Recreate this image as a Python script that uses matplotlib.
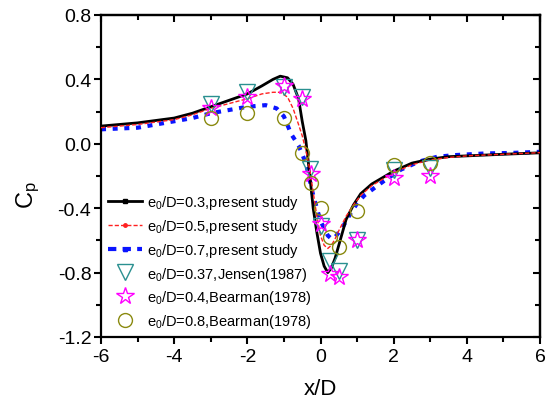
import matplotlib
matplotlib.use("Agg")
import matplotlib.pyplot as plt
from matplotlib.lines import Line2D
from matplotlib.ticker import MultipleLocator

plt.rcParams['font.family'] = ['Liberation Sans', 'DejaVu Sans']
plt.rcParams['mathtext.fontset'] = 'custom'
plt.rcParams['mathtext.rm'] = 'Liberation Sans'
plt.rcParams['mathtext.it'] = 'Liberation Sans:italic'

# ---- data ----
x_03 = [-6, -5, -4, -3.5, -3, -2.5, -2, -1.6, -1.3, -1.1, -0.9, -0.75, -0.6, -0.5, -0.4, -0.3,
        -0.2, -0.1, 0, 0.1, 0.2, 0.3, 0.4, 0.5, 0.7, 0.9, 1.1, 1.4, 1.7, 2.0, 2.5, 3.0, 3.5, 4, 5, 6]
cp_03 = [0.11, 0.13, 0.16, 0.19, 0.23, 0.27, 0.31, 0.36, 0.40, 0.42, 0.41, 0.37, 0.28, 0.14, 0.02, -0.18,
         -0.40, -0.55, -0.68, -0.76, -0.80, -0.77, -0.71, -0.63, -0.47, -0.38, -0.31, -0.25, -0.21, -0.17,
         -0.12, -0.095, -0.08, -0.075, -0.065, -0.056]

x_05 = [-6, -5, -4, -3.5, -3, -2.5, -2, -1.6, -1.3, -1.1, -0.9, -0.75, -0.6, -0.5, -0.4, -0.3,
        -0.2, -0.1, 0, 0.1, 0.2, 0.3, 0.4, 0.5, 0.7, 0.9, 1.1, 1.4, 1.7, 2.0, 2.5, 3.0, 3.5, 4, 5, 6]
cp_05 = [0.10, 0.12, 0.15, 0.18, 0.22, 0.25, 0.28, 0.31, 0.32, 0.32, 0.29, 0.22, 0.12, 0.05, -0.04, -0.15,
         -0.30, -0.45, -0.57, -0.63, -0.65, -0.63, -0.59, -0.54, -0.45, -0.38, -0.32, -0.26, -0.22, -0.18,
         -0.13, -0.10, -0.085, -0.075, -0.065, -0.055]

x_07 = [-6, -5, -4, -3.5, -3, -2.5, -2, -1.5, -1.2, -1.0, -0.8, -0.6, -0.4, -0.2, 0, 0.2, 0.3, 0.4,
        0.6, 0.8, 1.0, 1.2, 1.5, 1.8, 2.2, 2.7, 3.2, 3.7, 4.5, 5.2, 6]
cp_07 = [0.09, 0.10, 0.14, 0.16, 0.19, 0.21, 0.23, 0.24, 0.22, 0.17, 0.06, -0.01, -0.12, -0.32, -0.48,
         -0.57, -0.59, -0.58, -0.52, -0.44, -0.37, -0.32, -0.27, -0.22, -0.16, -0.11, -0.08, -0.07,
         -0.06, -0.057, -0.05]

x_jensen = [-3, -2, -1, -0.5, -0.3, 0, 0.25, 0.5, 1, 2, 3]
cp_jensen = [0.25, 0.32, 0.35, 0.29, -0.155, -0.51, -0.73, -0.79, -0.60, -0.16, -0.15]

x_bear04 = [-3, -2, -1, -0.5, -0.25, 0, 0.25, 0.5, 1, 2, 3]
cp_bear04 = [0.22, 0.29, 0.36, 0.28, -0.19, -0.50, -0.81, -0.83, -0.60, -0.21, -0.20]

x_bear08 = [-3, -2, -1, -0.5, -0.25, 0, 0.25, 0.5, 1, 2, 3]
cp_bear08 = [0.16, 0.19, 0.16, -0.06, -0.245, -0.40, -0.58, -0.64, -0.42, -0.13, -0.12]

labels = [r'e$_\mathregular{0}$/D=0.3,present study',
          r'e$_\mathregular{0}$/D=0.5,present study',
          r'e$_\mathregular{0}$/D=0.7,present study',
          r'e$_\mathregular{0}$/D=0.37,Jensen(1987)',
          r'e$_\mathregular{0}$/D=0.4,Bearman(1978)',
          r'e$_\mathregular{0}$/D=0.8,Bearman(1978)']

xticks = [-6, -4, -2, 0, 2, 4, 6]
yticks = [-1.2, -0.8, -0.4, 0.0, 0.4, 0.8]

# ---- figure ----
fig = plt.figure(figsize=(5.55, 4.10), dpi=100)
ax = fig.add_axes([101/555, 1-338/410, (540-101)/555, (338-16)/410])

teal = '#2a9090'
mag = '#ff00ff'
olive = '#8a8a10'

ax.plot(x_03, cp_03, color='black', lw=2.0, zorder=3)
ax.plot(x_05, cp_05, color='#ff2020', lw=1.0, ls=(0, (3, 1.5)), zorder=4)
ax.plot(x_07, cp_07, color='#0a14ff', lw=3.0, ls=(0, (1.2, 1.6)), zorder=2)
ax.plot(x_jensen, cp_jensen, ls='none', marker='v', ms=11, mfc='none', mec=teal, mew=1.0, zorder=5)
ax.plot(x_bear04, cp_bear04, ls='none', marker='*', ms=13, mfc='none', mec=mag, mew=1.0, zorder=6)
ax.plot(x_bear08, cp_bear08, ls='none', marker='o', ms=10, mfc='none', mec=olive, mew=1.0, zorder=7)

ax.set_xlim(-6, 6)
ax.set_ylim(-1.2, 0.8)
ax.set_xticks(xticks)
ax.set_yticks(yticks)
ax.set_xticklabels([str(t) for t in xticks])
ax.set_yticklabels(['%.1f' % t for t in yticks])
ax.xaxis.set_minor_locator(MultipleLocator(1))
ax.yaxis.set_minor_locator(MultipleLocator(0.2))
ax.tick_params(which='major', direction='out', length=5, width=1.5, labelsize=14, pad=2)
ax.tick_params(axis='x', which='major', pad=3)
ax.tick_params(which='minor', direction='out', length=3.5, width=1.5)
for s in ax.spines.values():
    s.set_linewidth(1.6)

top = ax.secondary_xaxis('top')
top.set_xticks(xticks)
top.xaxis.set_minor_locator(MultipleLocator(1))
top.tick_params(which='major', direction='in', length=5, width=1.5, labeltop=False)
top.tick_params(which='minor', direction='in', length=3.5, width=1.5)
top.spines['top'].set_linewidth(1.6)
right = ax.secondary_yaxis('right')
right.set_yticks(yticks)
right.yaxis.set_minor_locator(MultipleLocator(0.2))
right.tick_params(which='major', direction='in', length=5, width=1.5, labelright=False)
right.tick_params(which='minor', direction='in', length=3.5, width=1.5)
right.spines['right'].set_linewidth(1.6)

ax.set_xlabel('x/D', fontsize=16, labelpad=9)
fig.text(28/555, 1-195/410, r'C$_\mathregular{p}$', rotation=90, fontsize=17,
         ha='center', va='center')

handles = [
    Line2D([], [], color='black', lw=2.0, marker='s', ms=2.5),
    Line2D([], [], color='#ff2020', lw=1.0, ls=(0, (3, 1.5)), marker='o', ms=2.5),
    Line2D([], [], color='#0a14ff', lw=3.0, ls=(0, (2, 1.5)), marker='^', ms=3),
    Line2D([], [], ls='none', marker='v', ms=11, mfc='none', mec=teal, mew=1.0),
    Line2D([], [], ls='none', marker='*', ms=13, mfc='none', mec=mag, mew=1.0),
    Line2D([], [], ls='none', marker='o', ms=10, mfc='none', mec=olive, mew=1.0),
]
fig.legend(handles, labels, loc='upper left', bbox_to_anchor=(108/555, 1-194/410),
           frameon=False, fontsize=10.5, handlelength=2.3, handletextpad=0.35,
           labelspacing=0.40, borderpad=0, borderaxespad=0, numpoints=1)

fig.savefig('out.png', dpi=100)
